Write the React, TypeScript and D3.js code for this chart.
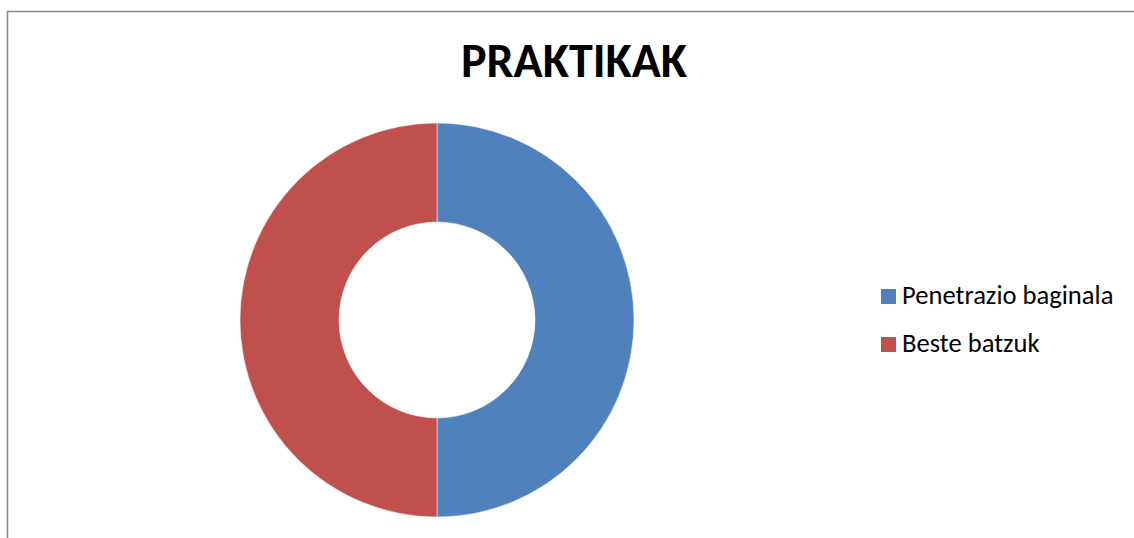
import React from "react";
import * as d3 from "d3";

const categories = ["Penetrazio baginala", "Beste batzuk"];
const values = [50, 50];
const colors = ["#4F81BD", "#C0504D"];
const title = "PRAKTIKAK";

export default function App() {
  const W = 1134, H = 538;
  const cx = 437, cy = 320, outerR = 197, innerR = 98;
  const pie = d3.pie<number>().sort(null).value((d) => d);
  const arcs = pie(values);
  const arcGen = d3.arc<d3.PieArcDatum<number>>().innerRadius(innerR).outerRadius(outerR);
  const font = "Carlito, Calibri, 'Open Sans', sans-serif";
  return (
    <svg width={W} height={H} style={{ position: "absolute", left: 0, top: 0, background: "#fff" }}>
      <rect x={7.5} y={11.5} width={W + 20} height={H + 20} fill="#fff" stroke="#878787" strokeWidth={1.5} />
      <text x={574} y={77} textAnchor="middle" fontFamily={font} fontWeight="bold" fontSize={48} fill="#000">
        {title}
      </text>
      <g transform={`translate(${cx},${cy})`}>
        {arcs.map((a, i) => (
          <path key={i} d={arcGen(a) || ""} fill={colors[i]} stroke="#fff" strokeWidth={0.5} />
        ))}
      </g>
      {categories.map((c, i) => (
        <g key={c} transform={`translate(881,${289 + i * 48})`}>
          <rect x={0} y={0} width={15} height={15} fill={colors[i]} />
          <text x={21} y={15} fontFamily={font} fontSize={26.6} fill="#000">
            {c}
          </text>
        </g>
      ))}
    </svg>
  );
}
